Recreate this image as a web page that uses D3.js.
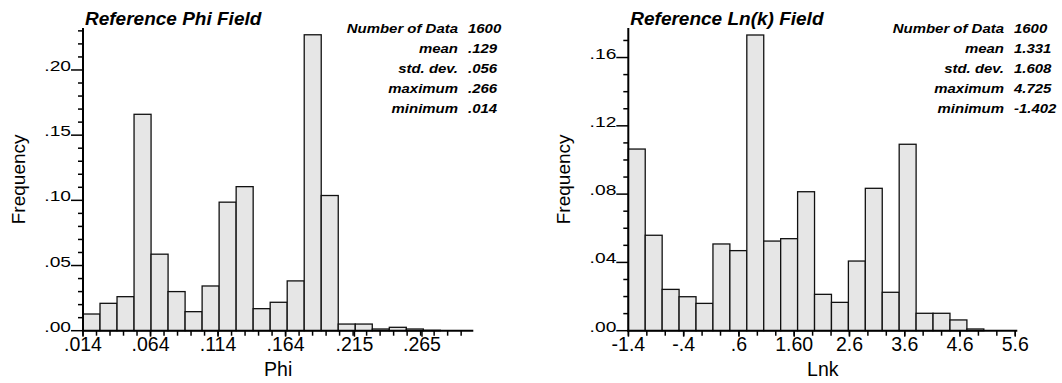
<!DOCTYPE html>
<html>
<head>
<meta charset="utf-8">
<script src="https://cdn.jsdelivr.net/npm/d3@7"></script>
<style>
  html, body { margin: 0; padding: 0; background: #fff; }
  svg { display: block; font-family: "Liberation Sans", Arial, Helvetica, sans-serif; }
</style>
</head>
<body>
<svg id="chart" width="1062" height="383"></svg>
<script>
// ---------- Data: Reference Phi Field ----------
const phiTitle = "Reference Phi Field";
const phiXLabel = "Phi";
const phiBinStart = 0.014;
const phiBinWidth = 0.0126;
const phiFreq = [0.0128, 0.0210, 0.0261, 0.1660, 0.0587, 0.0300, 0.0146, 0.0343, 0.0986, 0.1105,
                 0.0169, 0.0218, 0.0382, 0.2270, 0.1037, 0.0051, 0.0051, 0.0013, 0.0026, 0.0013, 0.0003];
const phiXTicks = [0.014, 0.064, 0.114, 0.164, 0.215, 0.265];
const phiXTickLabels = [".014", ".064", ".114", ".164", ".215", ".265"];
const phiYTicks = [0.00, 0.05, 0.10, 0.15, 0.20];
const phiYTickLabels = [".00", ".05", ".10", ".15", ".20"];
const phiStatNames = ["Number of Data", "mean", "std. dev.", "maximum", "minimum"];
const phiStatValues = ["1600", ".129", ".056", ".266", ".014"];

// ---------- Data: Reference Ln(k) Field ----------
const lnkTitle = "Reference Ln(k) Field";
const lnkXLabel = "Lnk";
const lnkBinStart = -1.402;
const lnkBinWidth = 0.30635;
const lnkFreq = [0.1064, 0.0559, 0.0242, 0.0199, 0.0160, 0.0508, 0.0469, 0.1732, 0.0525, 0.0539,
                 0.0814, 0.0213, 0.0166, 0.0408, 0.0834, 0.0225, 0.1092, 0.0102, 0.0102, 0.0063, 0.0010];
const lnkXTicks = [-1.4, -0.4, 0.6, 1.6, 2.6, 3.6, 4.6, 5.6];
const lnkXTickLabels = ["-1.4", "-.4", ".6", "1.60", "2.6", "3.6", "4.6", "5.6"];
const lnkYTicks = [0.00, 0.04, 0.08, 0.12, 0.16];
const lnkYTickLabels = [".00", ".04", ".08", ".12", ".16"];
const lnkStatNames = ["Number of Data", "mean", "std. dev.", "maximum", "minimum"];
const lnkStatValues = ["1600", "1.331", "1.608", "4.725", "-1.402"];

const svg = d3.select("#chart");

function drawPanel(p) {
  const g = svg.append("g");
  const x = d3.scaleLinear().domain(p.xDomain).range([p.left, p.right]);
  const y = d3.scaleLinear().domain(p.yDomain).range([p.bottom, p.top]);

  // bars
  g.selectAll("rect.bar").data(p.freq).enter().append("rect")
    .attr("class", "bar")
    .attr("x", (d, i) => x(p.binStart + i * p.binWidth))
    .attr("width", (d, i) => x(p.binStart + (i + 1) * p.binWidth) - x(p.binStart + i * p.binWidth))
    .attr("y", d => y(d))
    .attr("height", d => y(0) - y(d))
    .attr("fill", "#e6e6e6")
    .attr("stroke", "#111")
    .attr("stroke-width", 1.3);

  // y axis minor ticks
  const yMinor = d3.range(0, p.yMinorMax + 1e-9, 0.01).filter(v => !p.yTicks.some(t => Math.abs(t - v) < 1e-6));
  g.selectAll("line.ymin").data(yMinor).enter().append("line")
    .attr("x1", p.left - 5).attr("x2", p.left)
    .attr("y1", d => y(d)).attr("y2", d => y(d))
    .attr("stroke", "#000").attr("stroke-width", 1.5);
  // y axis major ticks
  g.selectAll("line.ymaj").data(p.yTicks).enter().append("line")
    .attr("x1", p.left - 12).attr("x2", p.left)
    .attr("y1", d => y(d)).attr("y2", d => y(d))
    .attr("stroke", "#000").attr("stroke-width", 1.5);
  // y tick labels
  g.selectAll("text.ylab").data(p.yTicks).enter().append("text")
    .attr("transform", d => `translate(${p.left - 12},${y(d) + 1}) scale(1.28,1)`)
    .attr("text-anchor", "end")
    .attr("font-size", 15)
    .text((d, i) => p.yTickLabels[i]);

  // x minor ticks
  const xMinor = [];
  const step = (p.xTicks[1] - p.xTicks[0]) / p.xSub;
  for (let v = p.xTicks[0]; v <= p.xDomain[1] + 1e-9; v += step) xMinor.push(v);
  g.selectAll("line.xmin").data(xMinor).enter().append("line")
    .attr("x1", d => x(d)).attr("x2", d => x(d))
    .attr("y1", p.bottom).attr("y2", p.bottom + 5)
    .attr("stroke", "#000").attr("stroke-width", 1.5);
  g.selectAll("line.xmaj").data(p.xTicks).enter().append("line")
    .attr("x1", d => x(d)).attr("x2", d => x(d))
    .attr("y1", p.bottom).attr("y2", p.bottom + 6)
    .attr("stroke", "#000").attr("stroke-width", 1.5);
  g.selectAll("text.xlab").data(p.xTicks).enter().append("text")
    .attr("x", d => x(d)).attr("y", 351)
    .attr("text-anchor", "middle")
    .attr("font-size", 19.5)
    .text((d, i) => p.xTickLabels[i]);

  // axis lines
  g.append("line").attr("x1", p.left).attr("x2", p.left).attr("y1", p.bottom + 1).attr("y2", p.top)
    .attr("stroke", "#000").attr("stroke-width", 2);
  g.append("line").attr("x1", p.left - 1).attr("x2", p.right).attr("y1", p.bottom).attr("y2", p.bottom)
    .attr("stroke", "#000").attr("stroke-width", 2);

  // axis titles
  g.append("text").attr("x", (p.left + p.right) / 2).attr("y", 376)
    .attr("text-anchor", "middle").attr("font-size", 19.5).text(p.xLabel);
  g.append("text")
    .attr("transform", `translate(${p.yTitleX},${(p.top + p.bottom) / 2}) rotate(-90)`)
    .attr("text-anchor", "middle").attr("font-size", 19).text("Frequency");

  // title
  g.append("text").attr("x", p.left + 2).attr("y", 25)
    .attr("font-size", 19).attr("font-weight", "bold").attr("font-style", "italic")
    .text(p.title);

  // stats
  p.statNames.forEach((s, i) => {
    const by = 32.5 + i * 20.2;
    g.append("text")
      .attr("transform", `translate(${p.statX},${by}) scale(1.15,1)`)
      .attr("text-anchor", "end").attr("font-size", 13)
      .attr("font-weight", "bold").attr("font-style", "italic").text(s);
    g.append("text")
      .attr("transform", `translate(${p.statX + 10},${by}) scale(1.15,1)`)
      .attr("text-anchor", "start").attr("font-size", 13)
      .attr("font-weight", "bold").attr("font-style", "italic").text(p.statValues[i]);
  });
}

drawPanel({
  title: phiTitle, xLabel: phiXLabel,
  freq: phiFreq, binStart: phiBinStart, binWidth: phiBinWidth,
  xTicks: phiXTicks, xTickLabels: phiXTickLabels, xSub: 5,
  yTicks: phiYTicks, yTickLabels: phiYTickLabels, yMinorMax: 0.23,
  statNames: phiStatNames, statValues: phiStatValues,
  xDomain: [0.014, 0.303], yDomain: [0, 0.2322],
  left: 83, right: 473.3, top: 28, bottom: 330.7,
  yTitleX: 25, statX: 458
});

drawPanel({
  title: lnkTitle, xLabel: lnkXLabel,
  freq: lnkFreq, binStart: lnkBinStart, binWidth: lnkBinWidth,
  xTicks: lnkXTicks, xTickLabels: lnkXTickLabels, xSub: 3,
  yTicks: lnkYTicks, yTickLabels: lnkYTickLabels, yMinorMax: 0.17,
  statNames: lnkStatNames, statValues: lnkStatValues,
  xDomain: [-1.402, 5.637], yDomain: [0, 0.1773],
  left: 628.3, right: 1017.3, top: 28, bottom: 330.7,
  yTitleX: 570, statX: 1004
});
</script>
</body>
</html>
